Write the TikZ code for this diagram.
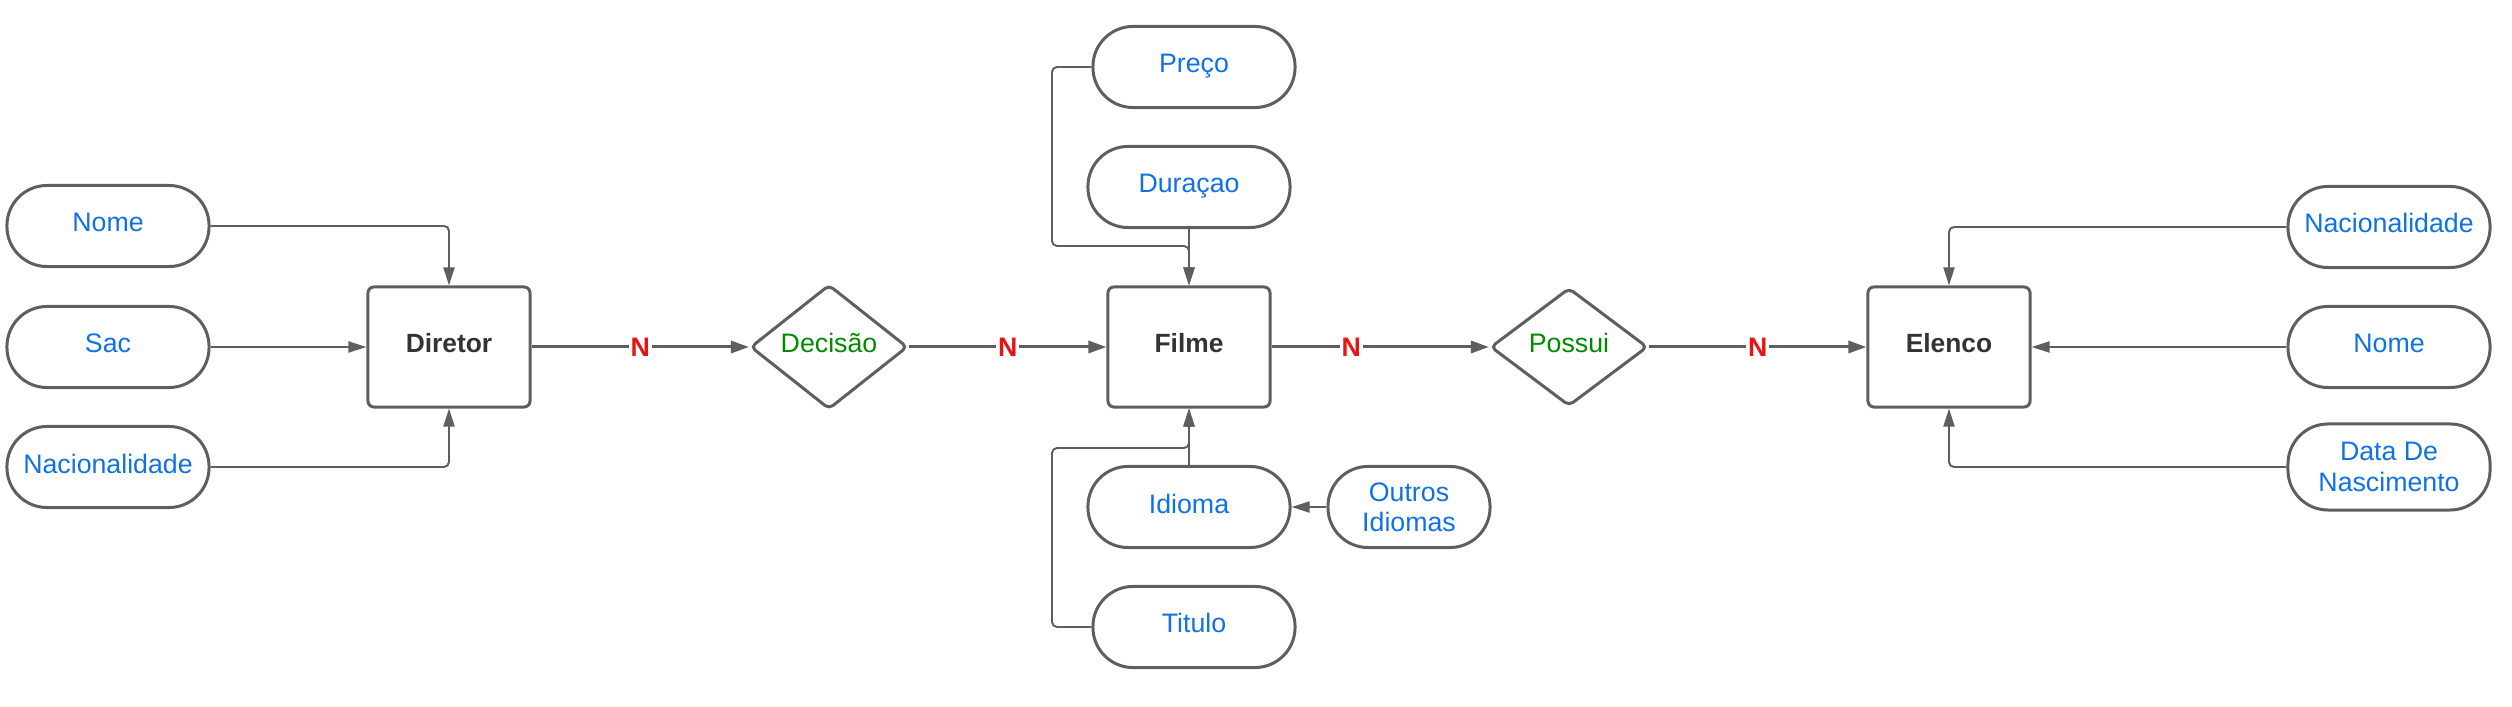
\documentclass[tikz,border=0pt]{standalone}
\usepackage{fontspec}
\setmainfont{Liberation Sans}
\usetikzlibrary{shapes.geometric,arrows.meta}
\definecolor{ln}{HTML}{5E5E5E}
\definecolor{blu}{HTML}{1071E5}
\definecolor{grn}{HTML}{008A00}
\definecolor{rd}{HTML}{E81313}
\definecolor{dk}{HTML}{333333}
\begin{document}
\begin{tikzpicture}[x=0.01cm,y=-0.01cm,
 oneline/.style={text height=0.2cm, text depth=0.08cm},
 attr/.style={draw=ln, line width=0.85pt, rounded corners=0.4cm, minimum width=2.02cm, minimum height=0.81cm, text=blu, font=\fontsize{7.6}{8.6}\selectfont, align=center, inner sep=0pt},
 ent/.style={oneline, draw=ln, line width=0.85pt, rounded corners=0.06cm, minimum width=1.62cm, minimum height=1.2cm, inner sep=0pt, font=\bfseries\fontsize{7.5}{8.6}\selectfont, text=dk},
 rel/.style={oneline, diamond, draw=ln, line width=0.85pt, rounded corners=0.05cm, minimum width=1.57cm, minimum height=1.18cm, inner sep=0pt, text=grn, font=\fontsize{7.6}{8.6}\selectfont},
 mainline/.style={draw=ln, line width=0.85pt, -{Triangle[length=0.18cm, width=0.12cm]}},
 thinline/.style={draw=ln, line width=0.55pt, rounded corners=0.05cm, -{Triangle[length=0.18cm, width=0.11cm]}},
 card/.style={fill=white, text=rd, font=\bfseries\fontsize{7.6}{8.6}\selectfont, inner sep=0.5pt}
]
\useasboundingbox (0,0) rectangle (2512,707);

% Director side
\node[attr, oneline] (nome1) at (108,226) {Nome};
\node[attr, oneline] (sac) at (108,347) {Sac};
\node[attr, oneline] (nac1) at (108,467) {Nacionalidade};
\node[ent] (diretor) at (449,347) {Diretor};

\node[rel] (decisao) at (829,347) {Decisão};
\node[ent] (filme) at (1189,347) {Filme};
\node[attr, oneline] (preco) at (1194,67) {Preço};
\node[attr, oneline] (duracao) at (1189,187) {Duraçao};
\node[attr, oneline] (idioma) at (1189,507) {Idioma};
\node[attr, minimum width=1.62cm] (outros) at (1409,507) {Outros\\Idiomas};
\node[attr, oneline] (titulo) at (1194,627) {Titulo};

\node[rel] (possui) at (1569,347) {Possui};
\node[ent] (elenco) at (1949,347) {Elenco};
\node[attr, oneline] (nac2) at (2389,227) {Nacionalidade};
\node[attr, oneline] (nome2) at (2389,347) {Nome};
\node[attr, minimum height=0.86cm] (data) at (2389,467) {Data De\\Nascimento};

\coordinate (pl) at (1052,246);
\coordinate (pj) at (1189,246);
\coordinate (tl) at (1052,448);
\coordinate (tj) at (1189,448);

% attribute connectors
\draw[thinline] (nome1.east) -| (diretor.north);
\draw[thinline] (sac.east) -- (diretor.west);
\draw[thinline] (nac1.east) -| (diretor.south);

\draw[thinline] (preco.west) -| (pl) -- (pj) -- (filme.north);
\draw[thinline] (duracao.south) -- (filme.north);
\draw[thinline] (titulo.west) -| (tl) -- (tj) -- (filme.south);
\draw[thinline] (idioma.north) -- (filme.south);
\draw[thinline] (outros.west) -- (idioma.east);

\draw[thinline] (nac2.west) -| (elenco.north);
\draw[thinline] (nome2.west) -- (elenco.east);
\draw[thinline] (data.west) -| (elenco.south);

% relationship connectors
\draw[mainline] (diretor.east) -- node[card, pos=0.5] {N} (decisao.west);
\draw[mainline] (decisao.east) -- node[card, pos=0.5] {N} (filme.west);
\draw[mainline] (filme.east) -- node[card, pos=0.367] {N} (possui.west);
\draw[mainline] (possui.east) -- node[card, pos=0.5] {N} (elenco.west);
\end{tikzpicture}
\end{document}
